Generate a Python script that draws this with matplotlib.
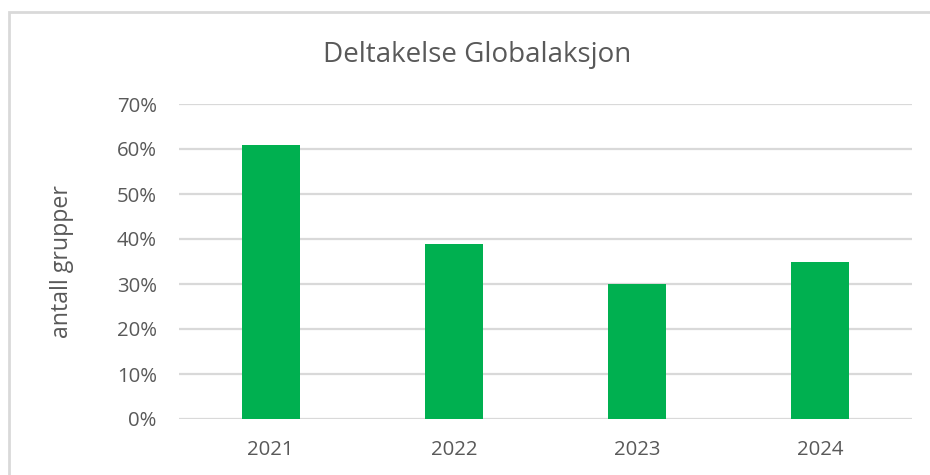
import matplotlib
matplotlib.use("Agg")
import matplotlib.pyplot as plt
from matplotlib.patches import Rectangle
from matplotlib.ticker import PercentFormatter

# data
years = ["2021", "2022", "2023", "2024"]
andel = [0.61, 0.39, 0.30, 0.35]
y_ticks = [0, 0.1, 0.2, 0.3, 0.4, 0.5, 0.6, 0.7]

plt.rcParams["font.family"] = ["Open Sans", "DejaVu Sans"]
tekst = "#595959"
grid = "#D9D9D9"

fig = plt.figure(figsize=(9.3, 4.75), dpi=100)
ax = fig.add_axes([179 / 930, 1 - 419 / 475, 733 / 930, 315 / 475])

x = range(len(years))
ax.bar(x, andel, width=0.316, color="#00B050", zorder=3)

ax.set_xlim(-0.5, len(years) - 0.5)
ax.set_ylim(0, 0.7)
ax.set_yticks(y_ticks)
ax.yaxis.set_major_formatter(PercentFormatter(1.0, decimals=0))
ax.set_xticks(list(x))
ax.set_xticklabels(years)
ax.tick_params(axis="both", length=0, labelsize=14.7, colors=tekst)
ax.tick_params(axis="y", pad=16)
ax.tick_params(axis="x", pad=15)
ax.yaxis.grid(True, color=grid, linewidth=1.6, zorder=0)
for s in ax.spines.values():
    s.set_visible(False)

fig.text(477 / 930, 1 - 55 / 475, "Deltakelse Globalaksjon",
         ha="center", va="center", fontsize=20, color=tekst)
fig.text(62 / 930, 1 - 262 / 475, "antall grupper", rotation=90,
         ha="center", va="center", fontsize=16.7, color=tekst)

# ramme rundt diagrammet (bare venstre og topp synlig)
fig.patches.append(Rectangle((9 / 930, -0.2), 1.3, 1.2 - 12 / 475,
                             transform=fig.transFigure, fill=False,
                             edgecolor=grid, linewidth=2))

fig.savefig("out.png", dpi=100)
